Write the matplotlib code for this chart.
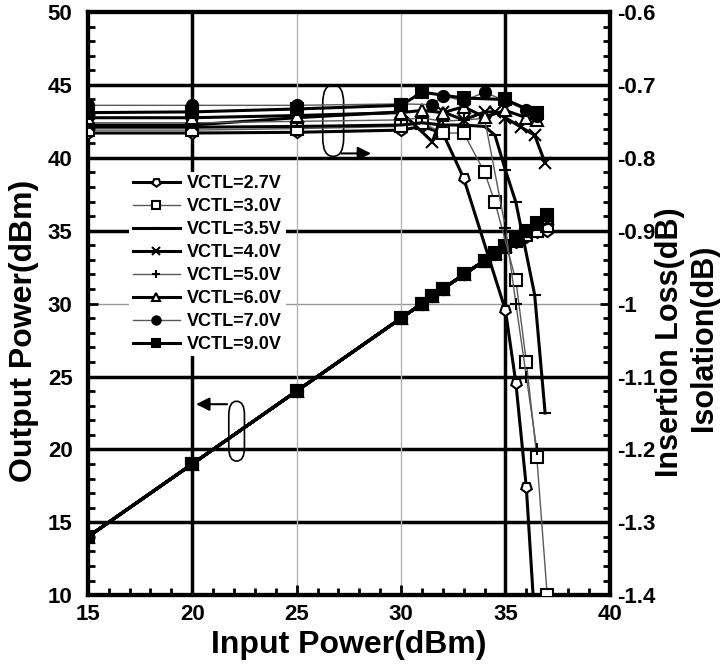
import matplotlib
matplotlib.use("Agg")
import matplotlib.pyplot as plt
from matplotlib.patches import FancyBboxPatch
from matplotlib.ticker import MultipleLocator

plt.rcParams['font.family'] = ['Liberation Sans', 'DejaVu Sans']
plt.rcParams['font.weight'] = 'bold'

# legend labels
labels = ['VCTL=2.7V', 'VCTL=3.0V', 'VCTL=3.5V', 'VCTL=4.0V',
          'VCTL=5.0V', 'VCTL=6.0V', 'VCTL=7.0V', 'VCTL=9.0V']

# output power (left axis) vs input power
pin_pout = [15, 20, 25, 30, 31, 31.5, 32, 33, 34, 34.5, 35, 35.5, 36, 36.5, 37]
pout_27 = [14, 19, 24, 29, 30, 30.55, 31, 32, 32.95, 33.4, 33.8, 34.2, 34.6, 34.9, 35.0]
pout_30 = [14, 19, 24, 29, 30, 30.55, 31, 32, 32.95, 33.4, 33.85, 34.3, 34.7, 35.0, 35.3]
pout_35 = [14, 19, 24, 29, 30, 30.55, 31, 32, 32.95, 33.45, 33.9, 34.35, 34.8, 35.2, 35.5]
pout_40 = [14, 19, 24, 29, 30, 30.55, 31, 32, 32.95, 33.45, 33.9, 34.4, 34.85, 35.3, 35.7]
pout_50 = [14, 19, 24, 29, 30, 30.55, 31, 32, 32.95, 33.45, 33.95, 34.45, 34.9, 35.4, 35.8]
pout_60 = [14, 19, 24, 29, 30, 30.55, 31, 32, 32.95, 33.45, 33.95, 34.45, 34.95, 35.45, 35.9]
pout_70 = [14, 19, 24, 29, 30, 30.55, 31, 32, 32.95, 33.45, 33.95, 34.5, 35.0, 35.5, 36.0]
pout_90 = [14, 19, 24, 29, 30, 30.55, 31, 32, 32.95, 33.45, 33.95, 34.5, 35.0, 35.5, 36.05]

# insertion loss (right axis) vs input power
pin_il_27 = [15, 20, 25, 30, 31, 32, 33, 35, 35.5, 36, 36.5]
il_27 = [-0.766, -0.766, -0.765, -0.762, -0.757, -0.766, -0.828, -1.009, -1.109, -1.252, -1.48]
pin_il_30 = [15, 20, 25, 30, 31, 32, 33, 34, 34.5, 35.5, 36, 36.5, 37]
il_30 = [-0.762, -0.762, -0.760, -0.757, -0.752, -0.766, -0.766, -0.820, -0.861, -0.968, -1.08, -1.21, -1.40]
pin_il_35 = [15, 20, 25, 30, 31, 32, 33, 34, 34.5, 35, 35.5, 36.4, 36.9]
il_35 = [-0.758, -0.758, -0.757, -0.755, -0.752, -0.755, -0.755, -0.757, -0.769, -0.817, -0.861, -0.988, -1.15]
pin_il_40 = [15, 20, 25, 30, 31.5, 32, 33, 34, 34.5, 35, 35.75, 36.4, 36.9]
il_40 = [-0.755, -0.755, -0.745, -0.737, -0.778, -0.737, -0.748, -0.737, -0.737, -0.745, -0.758, -0.769, -0.807]
pin_il_50 = [15, 20, 25, 30, 31, 32, 33, 34, 35, 35.5, 36, 36.5]
il_50 = [-0.752, -0.752, -0.750, -0.748, -0.745, -0.750, -0.748, -0.746, -0.896, -1.0, -1.1, -1.2]
pin_il_60 = [15, 20, 25, 30, 31, 32, 33, 34, 35, 36, 36.5]
il_60 = [-0.745, -0.745, -0.742, -0.738, -0.735, -0.738, -0.730, -0.744, -0.735, -0.745, -0.748]
pin_il_70 = [15, 20, 25, 30, 31.5, 32, 33, 34, 35, 36, 36.5]
il_70 = [-0.728, -0.728, -0.728, -0.726, -0.727, -0.715, -0.722, -0.710, -0.722, -0.735, -0.742]
pin_il_90 = [15, 20, 25, 30, 31, 33, 35, 36.5]
il_90 = [-0.738, -0.737, -0.733, -0.728, -0.710, -0.718, -0.720, -0.739]

markers = [(5, 0, 180), 's', '_', 'x', '+', '^', 'o', 's']
filled = [False, False, True, True, True, False, True, True]
widths = [2.2, 1.0, 2.2, 2.2, 1.0, 2.2, 1.0, 2.2]
colors = ['black', '0.35', 'black', 'black', '0.35', 'black', '0.35', 'black']

pouts = [pout_27, pout_30, pout_35, pout_40, pout_50, pout_60, pout_70, pout_90]
il_x = [pin_il_27, pin_il_30, pin_il_35, pin_il_40, pin_il_50, pin_il_60, pin_il_70, pin_il_90]
il_y = [il_27, il_30, il_35, il_40, il_50, il_60, il_70, il_90]

fig = plt.figure(figsize=(7.26, 6.68), dpi=100)
ax = fig.add_axes([0.121, 0.109, 0.719, 0.873])
ax2 = ax.twinx()

ax.set_xlim(15, 40)
ax.set_ylim(10, 50)
ax2.set_ylim(-1.4, -0.6)

# grid, mixed thick / thin like the original
for yv in [15, 20, 25, 35, 40, 45]:
    ax.axhline(yv, color='black', lw=2.5, zorder=1)
ax.axhline(30, color='0.6', lw=1, zorder=1)
for xv in [20, 35]:
    ax.axvline(xv, color='black', lw=2.5, zorder=1)
for xv in [25, 30]:
    ax.axvline(xv, color='0.7', lw=1, zorder=1)

handles = []
for i in range(8):
    fc = 'black' if filled[i] else 'white'
    ax.plot(pin_pout, pouts[i], color='black', lw=2.2, marker=markers[i],
            ms=8, mfc=fc, mec='black', mew=1.5, zorder=3)
    h, = ax2.plot(il_x[i], il_y[i], color=colors[i], lw=widths[i],
                  marker=markers[i], ms=8, mfc=fc, mec='black', mew=1.5,
                  label=labels[i], zorder=3)
    handles.append(h)

# capsules with arrows
cap1 = FancyBboxPatch((26.25, 40.1), 1.0, 4.9, boxstyle='round,pad=0,rounding_size=0.5',
                      mutation_aspect=2.5, fc='none', ec='black', lw=1.2, zorder=4)
ax.add_patch(cap1)
ax.annotate('', xy=(28.7, 40.3), xytext=(27.0, 40.3),
            arrowprops=dict(arrowstyle='-|>', color='black', lw=1.5, mutation_scale=20), zorder=4)
cap2 = FancyBboxPatch((21.75, 19.2), 0.75, 4.1, boxstyle='round,pad=0,rounding_size=0.37',
                      mutation_aspect=2.5, fc='none', ec='black', lw=1.2, zorder=4)
ax.add_patch(cap2)
ax.annotate('', xy=(20.05, 23.1), xytext=(21.8, 23.1),
            arrowprops=dict(arrowstyle='-|>', color='black', lw=1.5, mutation_scale=20), zorder=4)

# ticks
ax.xaxis.set_major_locator(MultipleLocator(5))
ax.xaxis.set_minor_locator(MultipleLocator(1))
ax.yaxis.set_major_locator(MultipleLocator(5))
ax.yaxis.set_minor_locator(MultipleLocator(1))
ax2.set_yticks([-1.4, -1.3, -1.2, -1.1, -1.0, -0.9, -0.8, -0.7, -0.6])
ax2.set_yticklabels(['-1.4', '-1.3', '-1.2', '-1.1', '-1', '-0.9', '-0.8', '-0.7', '-0.6'])
ax2.yaxis.set_minor_locator(MultipleLocator(0.02))
ax.tick_params(which='both', direction='in', width=2, labelsize=16, top=False)
ax.tick_params(axis='y', pad=11)
ax.tick_params(axis='x', pad=6)
ax.tick_params(which='major', length=7)
ax.tick_params(which='minor', length=5)
ax2.tick_params(which='both', direction='in', width=2, labelsize=16, pad=5)
ax2.tick_params(which='major', length=7)
ax2.tick_params(which='minor', length=5)
for a in [ax, ax2]:
    for s in a.spines.values():
        s.set_linewidth(3)
    for lab in a.get_xticklabels() + a.get_yticklabels():
        lab.set_fontweight('bold')

ax.set_xlabel('Input Power(dBm)', fontsize=23, fontweight='bold', labelpad=4)
fig.text(0.033, 0.505, 'Output Power(dBm)', rotation=90, fontsize=23,
         fontweight='bold', ha='center', va='center')
fig.text(0.923, 0.487, 'Insertion Loss(dB)', rotation=90, fontsize=22,
         fontweight='bold', ha='center', va='center')
fig.text(0.970, 0.494, 'Isolation(dB)', rotation=90, fontsize=22,
         fontweight='bold', ha='center', va='center')

leg = ax2.legend(handles=handles, loc='upper left', bbox_to_anchor=(0.062, 0.742),
                 frameon=True, framealpha=1, edgecolor='none', facecolor='white',
                 fancybox=False, handlelength=2.6, labelspacing=0.33, markerscale=0.75,
                 borderpad=0.2, handletextpad=0.4, prop={'weight': 'bold', 'size': 13})

fig.savefig('out.png', dpi=100)
